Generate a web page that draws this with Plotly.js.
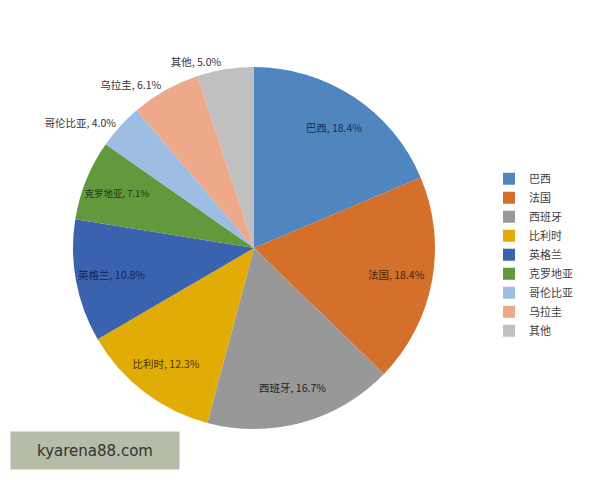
<!DOCTYPE html>
<html>
<head>
<meta charset="utf-8">
<script src="https://cdn.plot.ly/plotly-3.0.1.min.js"></script>
<style>html,body{margin:0;padding:0;background:#fff;}#chart{width:600px;height:480px;}</style>
</head>
<body>
<div id="chart"></div>
<script>
var labels = ["巴西", "法国", "西班牙", "比利时", "英格兰", "克罗地亚", "哥伦比亚", "乌拉圭", "其他"];
var shares = [18.4, 18.4, 16.7, 12.3, 10.8, 7.1, 4.0, 6.1, 5.0];
var sliceColors = ["#4F86BF", "#D4702C", "#989898", "#E2AC06", "#3B62AE", "#62993D", "#9DBDE3", "#EEA98A", "#C0C0C0"];
var labelColors = ["#14305A", "#4A1E05", "#222222", "#4A3300", "#14245A", "#1E3510", "#333333", "#333333", "#333333"];
var outsidePositions = ["none", "none", "none", "none", "none", "none", "outside", "outside", "outside"];
var insidePositions = ["inside", "inside", "inside", "inside", "inside", "inside", "none", "none", "none"];

var fontFamily = "Noto Sans CJK SC, sans-serif";

// Main pie: slices, legend, and outside labels for the small slices
var pieTrace = {
  type: "pie",
  labels: labels,
  values: shares,
  sort: false,
  direction: "clockwise",
  rotation: 0,
  marker: {colors: sliceColors, line: {width: 0}},
  texttemplate: "%{label}, %{value:.1f}%",
  textposition: outsidePositions,
  textfont: {family: fontFamily, size: 10.5, color: labelColors},
  automargin: false,
  hoverinfo: "label+value"
};

// Transparent ring on top: carries the inside labels near the outer edge
var labelRing = {
  type: "pie",
  labels: labels,
  values: shares,
  sort: false,
  direction: "clockwise",
  rotation: 0,
  hole: 0.6,
  showlegend: false,
  marker: {colors: sliceColors.map(function () { return "rgba(0,0,0,0)"; }), line: {width: 0}},
  texttemplate: "%{label}, %{value:.1f}%",
  textposition: insidePositions,
  insidetextorientation: "horizontal",
  textfont: {family: fontFamily, size: 10.5, color: labelColors},
  automargin: false,
  hoverinfo: "skip"
};

var layout = {
  width: 600, height: 480,
  margin: {l: 73, r: 165, t: 67, b: 51},
  paper_bgcolor: "#ffffff",
  showlegend: true,
  legend: {
    xref: "container", yref: "container",
    x: 0.815, y: 0.658, xanchor: "left", yanchor: "top",
    font: {family: fontFamily, size: 11, color: "#404040"},
    itemwidth: 30
  },
  annotations: [{
    text: "kyarena88.com",
    xref: "paper", yref: "paper",
    x: 0.0608, y: -0.0594,
    xanchor: "center", yanchor: "middle",
    showarrow: false,
    width: 166, height: 35,
    bgcolor: "#B5BCA7",
    font: {family: "DejaVu Sans, sans-serif", size: 15, color: "#333333"}
  }]
};

Plotly.newPlot("chart", [pieTrace, labelRing], layout, {displayModeBar: false, staticPlot: true});
</script>
</body>
</html>
